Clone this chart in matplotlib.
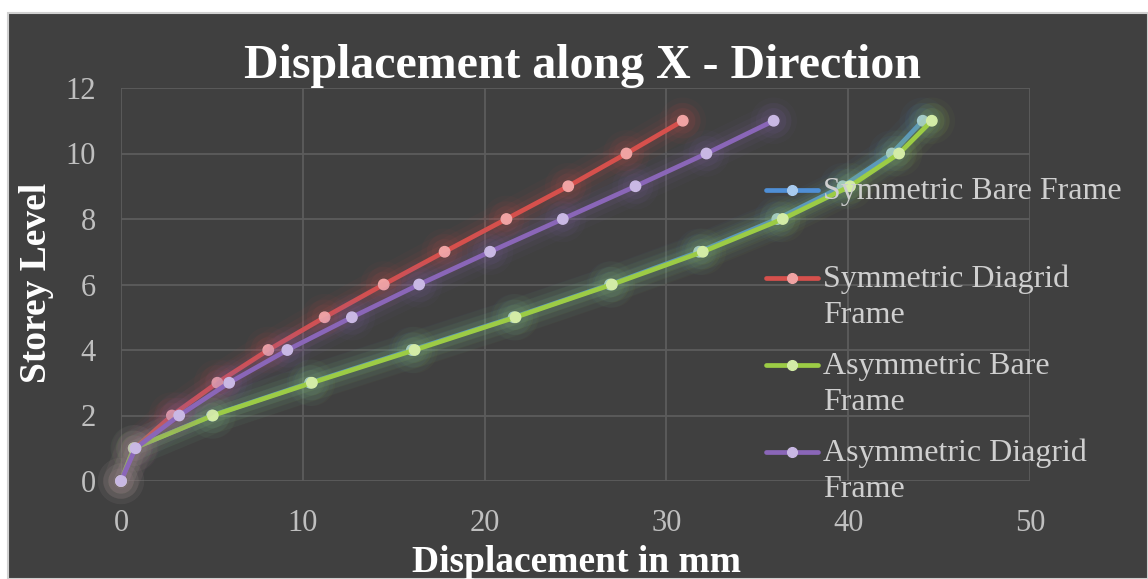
import matplotlib
matplotlib.use("Agg")
import matplotlib.pyplot as plt
from matplotlib import patheffects
from matplotlib.lines import Line2D
from matplotlib.patches import Rectangle

# storey levels and displacements (mm)
storeys = [0, 1, 2, 3, 4, 5, 6, 7, 8, 9, 10, 11]
sym_bare = [0, 0.7, 5.0, 10.4, 16.0, 21.6, 26.9, 31.8, 36.1, 39.7, 42.4, 44.1]
sym_diagrid = [0, 0.75, 2.8, 5.3, 8.1, 11.2, 14.45, 17.8, 21.2, 24.6, 27.8, 30.9]
asym_bare = [0, 0.7, 5.05, 10.5, 16.15, 21.7, 27.0, 32.0, 36.4, 40.1, 42.8, 44.6]
asym_diagrid = [0, 0.8, 3.2, 5.95, 9.15, 12.7, 16.4, 20.3, 24.3, 28.3, 32.2, 35.9]

labels = ["Symmetric Bare Frame", "Symmetric Diagrid\nFrame",
          "Asymmetric Bare\nFrame", "Asymmetric Diagrid\nFrame"]
series = [sym_bare, sym_diagrid, asym_bare, asym_diagrid]
colors = ["#4f8fd6", "#d6504c", "#9ccc45", "#8a66b8"]
mcolors = ["#a8cbef", "#f0a3a3", "#d3eca6", "#c9b8e4"]

W, H = 1148, 579
fig = plt.figure(figsize=(W / 100, H / 100), dpi=100, facecolor="white")

def px(x):
    return x / W

def py(y):
    return 1 - y / H

# dark chart area with thin border
fig.patches.append(Rectangle((px(8), 0), 1 - px(8), py(13), transform=fig.transFigure,
                             facecolor="#404040", edgecolor="#d0d0d0", linewidth=1.5,
                             zorder=-10))

ax = fig.add_axes([px(121), py(481), px(1030) - px(121), py(88) - py(481)])
ax.set_facecolor("none")

serif = "Liberation Serif"

for ys, c, mc in zip(series, colors, mcolors):
    glow = [patheffects.Stroke(linewidth=26, foreground=c, alpha=0.04),
            patheffects.Stroke(linewidth=18, foreground=c, alpha=0.06),
            patheffects.Stroke(linewidth=11, foreground=c, alpha=0.09),
            patheffects.Normal()]
    ax.plot(ys, storeys, color=c, linewidth=3.4, marker="o", markersize=7.5,
            markerfacecolor=mc, markeredgecolor=mc, path_effects=glow,
            solid_capstyle="round", clip_on=False, zorder=3)

ax.set_xlim(0, 50)
ax.set_ylim(0, 12)
ax.set_xticks([0, 10, 20, 30, 40, 50])
ax.set_yticks([0, 2, 4, 6, 8, 10, 12])
ax.grid(True, color="#5c5c5c", linewidth=1.3)
ax.set_axisbelow(True)
for s in ax.spines.values():
    s.set_visible(False)
ax.tick_params(length=0, colors="#bfbfbf", labelsize=22, pad=20)
ax.tick_params(axis="y", pad=18)
for t in ax.get_xticklabels() + ax.get_yticklabels():
    t.set_fontfamily(serif)

fig.text(px(582), py(66), "Displacement along X - Direction", ha="center", va="center",
         fontsize=34.5, fontweight="bold", color="white", family=serif)
fig.text(px(37), py(283), "Storey Level", ha="center", va="center", rotation=90,
         fontsize=27, fontweight="bold", color="white", family=serif)
fig.text(px(576), py(563), "Displacement in mm", ha="center", va="center",
         fontsize=27, fontweight="bold", color="white", family=serif)

# legend drawn like the spreadsheet one: marker line beside the first text line
legend_y = [190, 278, 365, 452]
for lab, ly, c, mc in zip(labels, legend_y, colors, mcolors):
    fig.add_artist(Line2D([px(766), px(818)], [py(ly), py(ly)], transform=fig.transFigure,
                          color=c, linewidth=3.4, solid_capstyle="round"))
    fig.add_artist(Line2D([px(792)], [py(ly)], transform=fig.transFigure, marker="o",
                          markersize=7, markerfacecolor=mc, markeredgecolor=mc))
    fig.text(px(823), py(ly - 13), lab, ha="left", va="top", fontsize=23,
             color="#cfcfcf", family=serif, linespacing=1.3)

fig.savefig("out.png", dpi=100, facecolor="white")
